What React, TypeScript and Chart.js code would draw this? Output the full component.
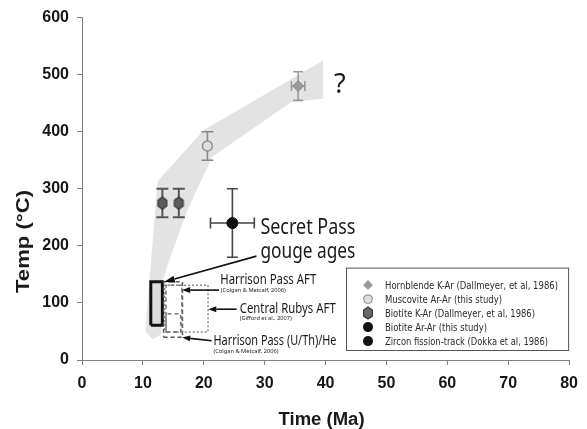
import React, { useEffect, useRef } from 'react';
import { Chart, registerables } from 'chart.js';

Chart.register(...registerables);

// Axis ranges
const AGE_MIN = 0;
const AGE_MAX = 80;
const AGE_STEP = 10;
const TEMP_MIN = 0;
const TEMP_MAX = 600;
const TEMP_STEP = 100;

// Cooling envelope outline (Ma, °C)
const envelopeAge = [10.4, 12.4, 20.0, 39.6, 39.6, 34.4, 21.4, 17.2, 14.3, 13.2, 13.0, 11.6, 10.4];
const envelopeTemp = [50, 313, 403, 525, 458, 452, 356, 260, 174, 137, 45, 36, 50];

// Thermochronometer ages with 1σ errors
const hornblendeAge = [35.5];
const hornblendeTemp = [480];
const hornblendeAgeErr = [1.1];
const hornblendeTempErr = [25];

const muscoviteAge = [20.6];
const muscoviteTemp = [375];
const muscoviteAgeErr = [0];
const muscoviteTempErr = [25];

const biotiteKArAge = [13.2, 15.9];
const biotiteKArTemp = [275, 275];
const biotiteKArAgeErr = [0, 0];
const biotiteKArTempErr = [25, 25];

const biotiteArArAge: number[] = [];
const biotiteArArTemp: number[] = [];

const zirconAge = [24.7];
const zirconTemp = [240];
const zirconAgeErr = [3.6];
const zirconTempErr = [60];

// Age / temperature windows (min, max)
const gougeAge = [11.3, 13.2];
const gougeTemp = [61, 137];
const harrisonAftAge = [13.8, 16.4];
const harrisonAftTemp = [49, 131];
const harrisonAftInnerAge = [13.8, 16.2];
const harrisonAftInnerTemp = [49, 81];
const rubysAftAge = [13.6, 20.7];
const rubysAftTemp = [49, 131];
const harrisonHeAge = [13.4, 16.5];
const harrisonHeTemp = [40, 137];

const legendLabels = [
  'Hornblende K-Ar (Dallmeyer, et al, 1986)',
  'Muscovite Ar-Ar (this study)',
  'Biotite K-Ar (Dallmeyer, et al, 1986)',
  'Biotite Ar-Ar (this study)',
  'Zircon fission-track (Dokka et al, 1986)',
];
const legendTextWidths = [173, 117, 150, 102, 163];

// Callout text, anchored in data units (age, temp)
const notes = [
  { text: 'Secret Pass', age: 29.3, temp: 220.4, size: 21, width: 95, family: 'Noto Sans' },
  { text: 'gouge ages', age: 29.3, temp: 178.5, size: 21, width: 95, family: 'Noto Sans' },
  { text: 'Harrison Pass AFT', age: 22.7, temp: 132.6, size: 14, width: 96, family: 'Noto Sans' },
  { text: '(Colgan & Metcalf, 2006)', age: 22.8, temp: 119, size: 5.5, width: 65, family: 'Noto Sans' },
  { text: 'Central Rubys AFT', age: 25.9, temp: 83, size: 14, width: 96, family: 'Noto Sans' },
  { text: '(Gifford et al., 2007)', age: 25.9, temp: 70, size: 5.5, width: 52, family: 'Noto Sans' },
  { text: 'Harrison Pass (U/Th)/He', age: 21.6, temp: 26.7, size: 14, width: 123, family: 'Noto Sans' },
  { text: '(Colgan & Metcalf, 2006)', age: 21.6, temp: 12.8, size: 5.5, width: 65, family: 'Noto Sans' },
  { text: '?', age: 41.4, temp: 468, size: 27, width: 0, family: 'Noto Sans' },
];

// Callout arrows: [age, temp] from -> to
const arrows = [
  { from: [28.65, 182], to: [13.45, 136.6], head: 11, half: 3.5 },
  { from: [22.5, 122.5], to: [16.45, 122.5], head: 8, half: 3 },
  { from: [25.4, 89], to: [20.75, 89], head: 8, half: 3 },
  { from: [21.3, 33.7], to: [16.45, 39.4], head: 8, half: 3 },
];

const pts = (xs: number[], ys: number[]) => xs.map((x, i) => ({ x, y: ys[i] }));
const box = (xs: number[], ys: number[]) => [
  { x: xs[0], y: ys[0] },
  { x: xs[1], y: ys[0] },
  { x: xs[1], y: ys[1] },
  { x: xs[0], y: ys[1] },
  { x: xs[0], y: ys[0] },
];

function makeHexagon(r: number, fill: string, stroke: string) {
  const c = document.createElement('canvas');
  const s = Math.ceil(r * 2 + 3);
  c.width = s;
  c.height = s;
  const g = c.getContext('2d')!;
  hexPath(g, s / 2, s / 2, r);
  g.fillStyle = fill;
  g.fill();
  g.lineWidth = 1.2;
  g.strokeStyle = stroke;
  g.stroke();
  return c;
}

function hexPath(g: CanvasRenderingContext2D, cx: number, cy: number, r: number) {
  g.beginPath();
  for (let i = 0; i < 6; i++) {
    const a = Math.PI / 2 + (i * Math.PI) / 3;
    const px = cx + r * 0.85 * Math.cos(a);
    const py = cy - r * Math.sin(a);
    if (i === 0) g.moveTo(px, py);
    else g.lineTo(px, py);
  }
  g.closePath();
}

function fitText(
  ctx: CanvasRenderingContext2D,
  text: string,
  x: number,
  y: number,
  font: string,
  width: number,
  align: 'left' | 'center' = 'left'
) {
  ctx.save();
  ctx.font = font;
  ctx.textBaseline = 'alphabetic';
  ctx.textAlign = 'left';
  const w = ctx.measureText(text).width;
  const s = width > 0 ? width / w : 1;
  ctx.translate(x, y);
  ctx.scale(s, 1);
  ctx.fillText(text, align === 'center' ? -w / 2 : 0, 0);
  ctx.restore();
}

function drawArrow(
  ctx: CanvasRenderingContext2D,
  x0: number,
  y0: number,
  x1: number,
  y1: number,
  head: number,
  half: number
) {
  const ang = Math.atan2(y1 - y0, x1 - x0);
  const bx = x1 - head * Math.cos(ang);
  const by = y1 - head * Math.sin(ang);
  ctx.beginPath();
  ctx.moveTo(x0, y0);
  ctx.lineTo(bx, by);
  ctx.stroke();
  ctx.beginPath();
  ctx.moveTo(x1, y1);
  ctx.lineTo(bx + half * Math.sin(ang), by - half * Math.cos(ang));
  ctx.lineTo(bx - half * Math.sin(ang), by + half * Math.cos(ang));
  ctx.closePath();
  ctx.fill();
}

const errorBarPlugin = {
  id: 'errorBars',
  beforeDatasetDraw(chart: any, args: any) {
    const ds = chart.data.datasets[args.index];
    const eb = ds.errorBars;
    if (!eb) return;
    const { ctx, scales } = chart;
    const xs = scales.x;
    const ys = scales.y;
    ctx.save();
    ctx.strokeStyle = eb.color;
    ctx.lineWidth = eb.width;
    ds.data.forEach((p: any, i: number) => {
      const cx = xs.getPixelForValue(p.x);
      const cy = ys.getPixelForValue(p.y);
      const ye = eb.y[i] || 0;
      const xe = eb.x[i] || 0;
      const c = eb.cap / 2;
      if (ye > 0) {
        const t = ys.getPixelForValue(p.y + ye);
        const b = ys.getPixelForValue(p.y - ye);
        ctx.beginPath();
        ctx.moveTo(cx, t);
        ctx.lineTo(cx, b);
        ctx.moveTo(cx - c, t);
        ctx.lineTo(cx + c, t);
        ctx.moveTo(cx - c, b);
        ctx.lineTo(cx + c, b);
        ctx.stroke();
      }
      if (xe > 0) {
        const l = xs.getPixelForValue(p.x - xe);
        const r = xs.getPixelForValue(p.x + xe);
        ctx.beginPath();
        ctx.moveTo(l, cy);
        ctx.lineTo(r, cy);
        ctx.moveTo(l, cy - c);
        ctx.lineTo(l, cy + c);
        ctx.moveTo(r, cy - c);
        ctx.lineTo(r, cy + c);
        ctx.stroke();
      }
    });
    ctx.restore();
  },
};

const calloutPlugin = {
  id: 'callouts',
  afterDatasetsDraw(chart: any) {
    const { ctx, scales } = chart;
    const px = (a: number) => scales.x.getPixelForValue(a);
    const py = (t: number) => scales.y.getPixelForValue(t);
    ctx.save();
    ctx.strokeStyle = '#111';
    ctx.fillStyle = '#111';
    ctx.lineWidth = 1.6;
    arrows.forEach((a) => {
      drawArrow(ctx, px(a.from[0]), py(a.from[1]), px(a.to[0]), py(a.to[1]), a.head, a.half);
    });
    ctx.fillStyle = '#1a1a1a';
    notes.forEach((n) => {
      fitText(ctx, n.text, px(n.age), py(n.temp), `${n.size}px "${n.family}"`, n.width);
    });
    ctx.restore();
  },
};

const legendBoxPlugin = {
  id: 'legendBox',
  afterDraw(chart: any) {
    const { ctx, chartArea } = chart;
    const left = chartArea.left + 264;
    const top = chartArea.top + 250;
    const right = chartArea.right;
    const bottom = chartArea.bottom - 9;
    ctx.save();
    ctx.fillStyle = '#fff';
    ctx.fillRect(left, top, right - left, bottom - top);
    ctx.strokeStyle = '#555';
    ctx.lineWidth = 1;
    ctx.strokeRect(left + 0.5, top + 0.5, right - left - 1, bottom - top - 1);
    const mx = left + 22;
    const tx = left + 39;
    legendLabels.forEach((label, i) => {
      const y = top + 17.5 + i * 14;
      ctx.save();
      if (i === 0) {
        ctx.fillStyle = '#999';
        ctx.beginPath();
        ctx.moveTo(mx, y - 5);
        ctx.lineTo(mx + 5, y);
        ctx.lineTo(mx, y + 5);
        ctx.lineTo(mx - 5, y);
        ctx.closePath();
        ctx.fill();
      } else if (i === 1) {
        ctx.fillStyle = '#e0e0e0';
        ctx.strokeStyle = '#999';
        ctx.lineWidth = 1.3;
        ctx.beginPath();
        ctx.arc(mx, y, 4.3, 0, Math.PI * 2);
        ctx.fill();
        ctx.stroke();
      } else if (i === 2) {
        hexPath(ctx, mx, y, 6);
        ctx.fillStyle = '#666';
        ctx.fill();
        ctx.strokeStyle = '#3a3a3a';
        ctx.lineWidth = 1.2;
        ctx.stroke();
      } else {
        ctx.fillStyle = '#111';
        ctx.beginPath();
        ctx.arc(mx, y, 5, 0, Math.PI * 2);
        ctx.fill();
      }
      ctx.restore();
      ctx.fillStyle = '#2a2a2a';
      fitText(ctx, label, tx, y + 4, '10.5px "DejaVu Sans"', legendTextWidths[i]);
    });
    ctx.restore();
  },
};

const axisTitlePlugin = {
  id: 'axisTitles',
  afterDraw(chart: any) {
    const { ctx, chartArea } = chart;
    ctx.save();
    ctx.fillStyle = '#1a1a1a';
    const cx = (chartArea.left + chartArea.right) / 2 - 4;
    fitText(ctx, 'Time (Ma)', cx, 425, 'bold 18px "Liberation Sans"', 86, 'center');
    ctx.translate(29, 241.5);
    ctx.rotate(-Math.PI / 2);
    fitText(ctx, 'Temp (°C)', 0, 0, 'bold 19px "Liberation Sans"', 103, 'center');
    ctx.restore();
  },
};

export default function App() {
  const ref = useRef<HTMLCanvasElement | null>(null);

  useEffect(() => {
    if (!ref.current) return;
    const hex = makeHexagon(6, '#5c5c5c', '#333');

    const lineBase = {
      showLine: true,
      pointRadius: 0,
      pointHoverRadius: 0,
      tension: 0,
    };

    const datasets: any[] = [
      {
        label: 'envelope',
        data: pts(envelopeAge, envelopeTemp),
        ...lineBase,
        borderWidth: 0,
        borderColor: 'rgba(0,0,0,0)',
        backgroundColor: '#e3e3e3',
        fill: 'shape',
        order: 10,
      },
      {
        label: 'Secret Pass gouge ages',
        data: box(gougeAge, gougeTemp),
        ...lineBase,
        borderWidth: 3,
        borderColor: '#111',
        backgroundColor: '#dcdcdc',
        fill: 'shape',
        order: 5,
      },
      {
        label: 'Central Rubys AFT',
        data: box(rubysAftAge, rubysAftTemp),
        ...lineBase,
        borderWidth: 1.5,
        borderColor: '#8a8a8a',
        borderDash: [2, 2],
        fill: false,
        order: 4,
      },
      {
        label: 'Harrison Pass AFT',
        data: box(harrisonAftAge, harrisonAftTemp),
        ...lineBase,
        borderWidth: 1.5,
        borderColor: '#777',
        borderDash: [4, 3],
        fill: false,
        order: 4,
      },
      {
        label: 'Harrison Pass AFT (lower)',
        data: box(harrisonAftInnerAge, harrisonAftInnerTemp),
        ...lineBase,
        borderWidth: 1.5,
        borderColor: '#777',
        borderDash: [4, 3],
        fill: false,
        order: 4,
      },
      {
        label: 'Harrison Pass (U/Th)/He',
        data: box(harrisonHeAge, harrisonHeTemp),
        ...lineBase,
        borderWidth: 1.5,
        borderColor: '#555',
        borderDash: [4, 3],
        fill: false,
        order: 4,
      },
      {
        label: legendLabels[0],
        data: pts(hornblendeAge, hornblendeTemp),
        pointStyle: 'rectRot',
        pointRadius: 5.5,
        backgroundColor: '#9a9a9a',
        borderColor: '#8c8c8c',
        borderWidth: 1,
        errorBars: { x: hornblendeAgeErr, y: hornblendeTempErr, color: '#9a9a9a', width: 1.6, cap: 10 },
        order: 1,
      },
      {
        label: legendLabels[1],
        data: pts(muscoviteAge, muscoviteTemp),
        pointStyle: 'circle',
        pointRadius: 5,
        backgroundColor: '#dedede',
        borderColor: '#8f8f8f',
        borderWidth: 1.5,
        errorBars: { x: muscoviteAgeErr, y: muscoviteTempErr, color: '#888', width: 1.6, cap: 12 },
        order: 1,
      },
      {
        label: legendLabels[2],
        data: pts(biotiteKArAge, biotiteKArTemp),
        pointStyle: hex,
        pointRadius: 6,
        errorBars: { x: biotiteKArAgeErr, y: biotiteKArTempErr, color: '#555', width: 2, cap: 12 },
        order: 1,
      },
      {
        label: legendLabels[3],
        data: pts(biotiteArArAge, biotiteArArTemp),
        pointStyle: 'circle',
        pointRadius: 5,
        backgroundColor: '#111',
        borderColor: '#111',
        order: 1,
      },
      {
        label: legendLabels[4],
        data: pts(zirconAge, zirconTemp),
        pointStyle: 'circle',
        pointRadius: 5.5,
        backgroundColor: '#0d0d0d',
        borderColor: '#0d0d0d',
        borderWidth: 1,
        errorBars: { x: zirconAgeErr, y: zirconTempErr, color: '#444', width: 1.6, cap: 11 },
        order: 1,
      },
    ];

    const tickFont = { family: '"Liberation Sans", Arial, sans-serif', size: 16, weight: 'bold' as const };

    const chart = new Chart(ref.current, {
      type: 'scatter',
      data: { datasets },
      options: {
        animation: false,
        responsive: false,
        devicePixelRatio: 1,
        events: [],
        layout: { padding: { top: 14, right: 15, left: 0, bottom: 0 } },
        plugins: {
          legend: { display: false },
          tooltip: { enabled: false },
        },
        scales: {
          x: {
            type: 'linear',
            min: AGE_MIN,
            max: AGE_MAX,
            ticks: { stepSize: AGE_STEP, font: tickFont, color: '#161616', padding: 9, maxRotation: 0 },
            grid: { drawOnChartArea: false, drawTicks: true, tickLength: 5, color: '#808080' },
            border: { display: true, color: '#808080', width: 1 },
            afterFit: (s: any) => {
              s.height = 69;
            },
          },
          y: {
            type: 'linear',
            min: TEMP_MIN,
            max: TEMP_MAX,
            ticks: { stepSize: TEMP_STEP, font: tickFont, color: '#161616', padding: 8 },
            grid: { drawOnChartArea: false, drawTicks: true, tickLength: 5, color: '#808080' },
            border: { display: true, color: '#808080', width: 1 },
            afterFit: (s: any) => {
              s.width = 82;
            },
          },
        },
      },
      plugins: [errorBarPlugin, calloutPlugin, legendBoxPlugin, axisTitlePlugin],
    } as any);

    return () => chart.destroy();
  }, []);

  return (
    <div style={{ position: 'absolute', left: 0, top: 0, width: 587, height: 429, background: '#fff' }}>
      <canvas ref={ref} width={587} height={429} style={{ display: 'block' }} />
    </div>
  );
}
